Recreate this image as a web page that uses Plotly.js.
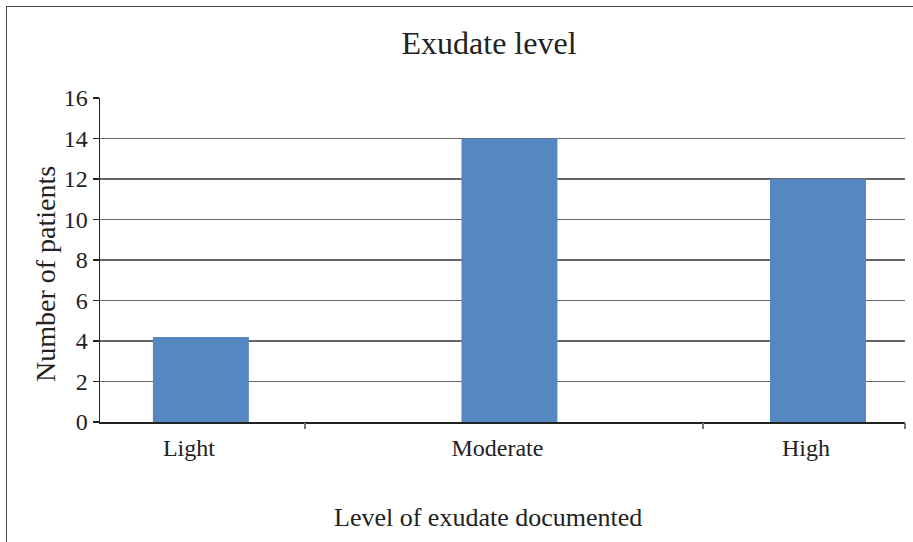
<!DOCTYPE html>
<html>
<head>
<meta charset="utf-8">
<script src="https://cdn.plot.ly/plotly-3.0.1.min.js"></script>
<style>
  html, body { margin:0; padding:0; width:913px; height:542px; overflow:hidden; background:#fff; }
  #chart { position:absolute; left:0; top:0; width:913px; height:542px; }
  #frame { position:absolute; left:6px; top:6px; width:960px; height:600px;
           border-left:1.5px solid #444; border-top:1.5px solid #444; pointer-events:none; }
</style>
</head>
<body>
<div id="chart"></div>
<div id="frame"></div>
<script>
const categories = ["Light", "Moderate", "High"];
const patients = [4.2, 14, 12];
const yTicks = [0, 2, 4, 6, 8, 10, 12, 14, 16];
const xTickMarks = [0.337, 1.627, 2.282];
const titleText = "Exudate level";
const xTitleText = "Level of exudate documented";
const yTitleText = "Number of patients";

const font = "Liberation Serif, Times New Roman, serif";
const xRange = [-0.327, 2.282];

const traces = [
  {
    type: "bar",
    x: categories,
    y: patients,
    width: 0.311,
    marker: { color: "#5588c1", line: { width: 0 } },
    hoverinfo: "x+y"
  },
  {
    type: "scatter",
    x: xTickMarks,
    y: [0, 0, 0],
    xaxis: "x2",
    mode: "markers",
    marker: { opacity: 0 },
    hoverinfo: "skip",
    showlegend: false
  }
];

const layout = {
  width: 913,
  height: 542,
  margin: { l: 100, r: 8, t: 98, b: 120 },
  paper_bgcolor: "#fff",
  plot_bgcolor: "#fff",
  showlegend: false,
  font: { family: font, color: "#222" },
  title: {
    text: titleText,
    font: { family: font, size: 32, color: "#222" },
    xref: "container", x: 489 / 913, xanchor: "center",
    yref: "container", y: 1 - 43 / 542, yanchor: "middle"
  },
  annotations: [
    {
      text: xTitleText, showarrow: false,
      xref: "paper", yref: "paper",
      x: (488 - 100) / 805, xanchor: "center",
      y: -(517 - 422) / 324, yanchor: "middle",
      font: { family: font, size: 26, color: "#222" }
    },
    {
      text: yTitleText, showarrow: false, textangle: -90,
      xref: "paper", yref: "paper",
      x: (45 - 100) / 805, xanchor: "center",
      y: (422 - 274) / 324, yanchor: "middle",
      font: { family: font, size: 28, color: "#222" }
    }
  ],
  xaxis: {
    type: "category",
    range: xRange,
    showline: true, linecolor: "#222", linewidth: 1.5,
    ticks: "", showgrid: false, zeroline: false,
    ticklabelshift: -12, ticklabelstandoff: 4,
    tickfont: { family: font, size: 24, color: "#222" }
  },
  xaxis2: {
    overlaying: "x", anchor: "y", side: "bottom",
    range: xRange, type: "linear",
    tickmode: "array", tickvals: xTickMarks,
    ticks: "outside", ticklen: 6, tickcolor: "#777", tickwidth: 1.5,
    showticklabels: false, showgrid: false, zeroline: false, showline: false
  },
  yaxis: {
    range: [0, 16],
    tickmode: "array", tickvals: yTicks,
    showline: true, linecolor: "#222", linewidth: 1.5,
    ticks: "outside", ticklen: 6, tickcolor: "#222", tickwidth: 1.5,
    showgrid: true, gridcolor: "#666", gridwidth: 1.3,
    zeroline: false,
    tickfont: { family: font, size: 24, color: "#222" }
  }
};

Plotly.newPlot("chart", traces, layout, { staticPlot: true, displayModeBar: false });
</script>
</body>
</html>
